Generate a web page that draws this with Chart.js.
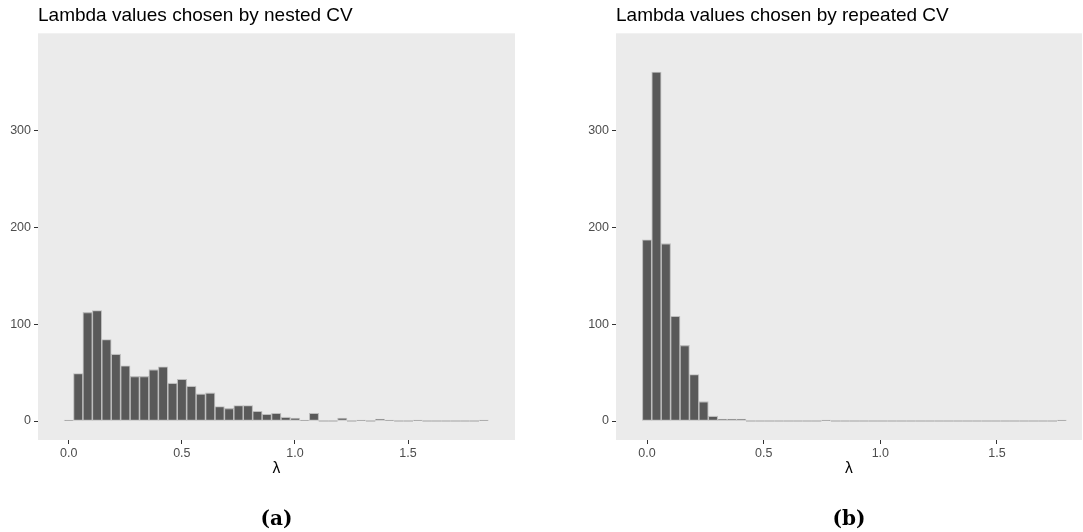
<!DOCTYPE html>
<html>
<head>
<meta charset="utf-8">
<script src="https://cdn.jsdelivr.net/npm/chart.js@4.4.1/dist/chart.umd.min.js"></script>
<style>
  html, body { margin: 0; padding: 0; background: #ffffff; }
  #wrap { position: relative; width: 1083px; height: 532px; }
  canvas { position: absolute; top: 0; }
</style>
</head>
<body>
<div id="wrap">
  <canvas id="nested" width="540" height="532" style="left:0px"></canvas>
  <canvas id="repeated" width="543" height="532" style="left:540px"></canvas>
</div>
<script>
// Histogram bins: counts per bin, bins start at 0 with a fixed width
const nestedBinWidth = 0.0417;
const repeatedBinWidth = 0.0404;

const nestedCounts = [
  1, 49, 112, 114, 84, 69, 57, 46, 46, 53,
  56, 39, 43, 36, 28, 29, 15, 13, 16, 16,
  10, 7, 8, 4, 3, 1, 8, 0, 0, 3,
  0, 1, 0, 2, 1, 0, 0, 1, 0, 0,
  0, 0, 0, 0, 1
];

const repeatedCounts = [
  187, 360, 183, 108, 78, 48, 20, 5, 2, 2,
  2, 0, 0, 0, 0, 0, 0, 0, 0, 1,
  0, 0, 0, 0, 0, 0, 0, 0, 0, 0,
  0, 0, 0, 0, 0, 0, 0, 0, 0, 0,
  0, 0, 0, 0, 1
];

const yTickValues = [0, 100, 200, 300];
const xTickValues = [0, 0.5, 1.0, 1.5];
const xTickLabels = ['0.0', '0.5', '1.0', '1.5'];

const SANS = '"Liberation Sans", Arial, Helvetica, sans-serif';
const BAR_FILL = '#595959';
const BAR_EDGE = '#BDBDBD';

// grey panel behind the bars
const panelBackground = {
  id: 'panelBackground',
  beforeDraw(chart) {
    const { ctx, chartArea: a } = chart;
    ctx.save();
    ctx.fillStyle = '#EBEBEB';
    ctx.fillRect(a.left, a.top, a.right - a.left, a.bottom - a.top);
    ctx.restore();
  }
};

// empty bins still show their outline as a flat segment on the baseline
const emptyBins = {
  id: 'emptyBins',
  afterDatasetsDraw(chart) {
    const { ctx } = chart;
    const meta = chart.getDatasetMeta(0);
    const values = chart.data.datasets[0].data;
    ctx.save();
    ctx.strokeStyle = BAR_EDGE;
    ctx.lineWidth = 1.6;
    meta.data.forEach((bar, i) => {
      if (values[i].y !== 0) return;
      const p = bar.getProps(['x', 'width', 'base'], true);
      ctx.beginPath();
      ctx.moveTo(p.x - p.width / 2, p.base);
      ctx.lineTo(p.x + p.width / 2, p.base);
      ctx.stroke();
    });
    ctx.restore();
  }
};

function histogram(canvasId, cfg) {
  const points = cfg.counts.map((c, i) => ({ x: i * cfg.binWidth, y: c }));
  return new Chart(document.getElementById(canvasId), {
    type: 'bar',
    data: {
      datasets: [{
        data: points,
        backgroundColor: BAR_FILL,
        borderColor: BAR_EDGE,
        borderWidth: 1.1,
        borderSkipped: false,
        barPercentage: 1,
        categoryPercentage: 1
      }]
    },
    options: {
      responsive: false,
      animation: false,
      devicePixelRatio: 1,
      layout: { padding: { left: 0, right: cfg.padRight, top: 0, bottom: 0 } },
      plugins: {
        legend: { display: false },
        tooltip: { enabled: false },
        title: {
          display: true,
          text: cfg.title,
          align: 'start',
          fullSize: false,
          color: '#000000',
          font: { family: SANS, size: 19, weight: 'normal', lineHeight: 1.2 },
          padding: { top: 4, bottom: 6.5 }
        },
        subtitle: {
          display: true,
          position: 'bottom',
          text: cfg.caption,
          fullSize: false,
          color: '#000000',
          font: { family: '"DejaVu Serif", "Liberation Serif", serif', size: 20, weight: 'bold', lineHeight: 1.2 },
          padding: { top: 28, bottom: 0 }
        }
      },
      scales: {
        x: {
          type: 'linear',
          min: cfg.xMin,
          max: cfg.xMax,
          offset: false,
          border: { display: false },
          grid: {
            display: true,
            offset: false,
            drawOnChartArea: false,
            drawTicks: true,
            tickLength: 4,
            tickWidth: 1,
            tickColor: '#333333'
          },
          afterBuildTicks: s => { s.ticks = xTickValues.map(v => ({ value: v })); },
          ticks: {
            autoSkip: false,
            maxRotation: 0,
            padding: 2,
            color: '#4D4D4D',
            font: { family: SANS, size: 12.5 },
            callback: v => xTickLabels[xTickValues.indexOf(v)]
          },
          title: {
            display: true,
            text: 'λ',
            color: '#000000',
            font: { family: SANS, size: 15.6 },
            padding: { top: 0, bottom: 2 }
          },
          afterFit: s => { s.height = 40; }
        },
        y: {
          min: -19.6,
          max: 400,
          border: { display: false },
          grid: {
            display: true,
            drawOnChartArea: false,
            drawTicks: true,
            tickLength: 4,
            tickWidth: 1,
            tickColor: '#333333'
          },
          afterBuildTicks: s => { s.ticks = yTickValues.map(v => ({ value: v })); },
          ticks: {
            autoSkip: false,
            padding: 3,
            color: '#4D4D4D',
            font: { family: SANS, size: 12.5 },
            callback: v => String(v)
          },
          afterFit: s => { s.width = cfg.yWidth; }
        }
      }
    },
    plugins: [panelBackground, emptyBins]
  });
}

histogram('nested', {
  counts: nestedCounts,
  binWidth: nestedBinWidth,
  title: 'Lambda values chosen by nested CV',
  caption: '(a)',
  xMin: -0.136,
  xMax: 1.973,
  yWidth: 38,
  padRight: 25
});

histogram('repeated', {
  counts: repeatedCounts,
  binWidth: repeatedBinWidth,
  title: 'Lambda values chosen by repeated CV',
  caption: '(b)',
  xMin: -0.133,
  xMax: 1.8645,
  yWidth: 76,
  padRight: 1
});
</script>
</body>
</html>
